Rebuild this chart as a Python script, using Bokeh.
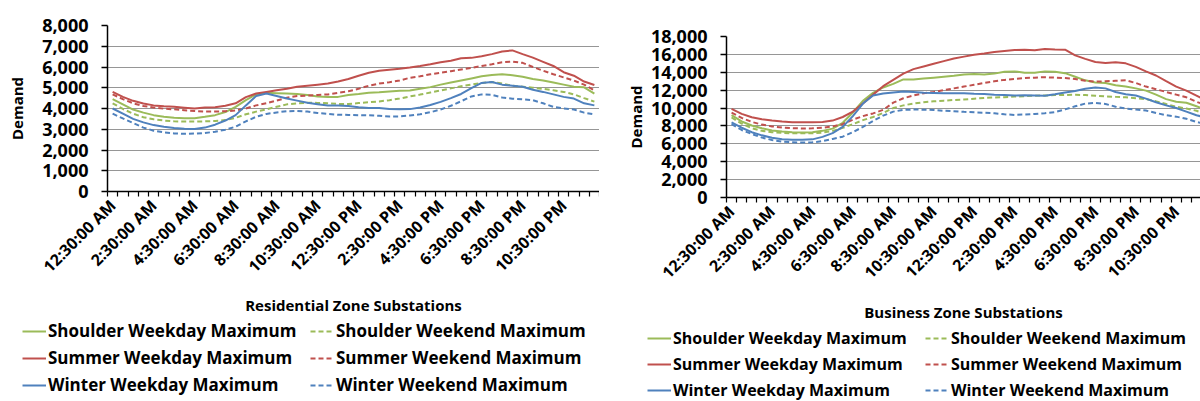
import math
from bokeh.plotting import figure
from bokeh.models import FixedTicker, NumeralTickFormatter, Legend, LegendItem, Range1d
from bokeh.layouts import row, column
from bokeh.embed import file_html
from bokeh.resources import INLINE

# ---------------- data ----------------
tick_labels = ["12:30:00 AM", "2:30:00 AM", "4:30:00 AM", "6:30:00 AM", "8:30:00 AM",
               "10:30:00 AM", "12:30:00 PM", "2:30:00 PM", "4:30:00 PM", "6:30:00 PM",
               "8:30:00 PM", "10:30:00 PM"]

series_names = ["Shoulder Weekday Maximum", "Shoulder Weekend Maximum",
                "Summer Weekday Maximum", "Summer Weekend Maximum",
                "Winter Weekday Maximum", "Winter Weekend Maximum"]

res_shoulder_wd = [4450, 4200, 3950, 3800, 3680, 3600, 3550, 3530, 3530, 3600, 3680, 3830, 4080, 4400, 4680, 4760,
                   4740, 4720, 4700, 4650, 4580, 4560, 4560, 4650, 4700, 4760, 4780, 4820, 4860, 4870, 4950, 5030,
                   5150, 5250, 5350, 5450, 5550, 5620, 5650, 5600, 5530, 5420, 5350, 5250, 5150, 5050, 5020, 4720]
res_shoulder_we = [4250, 3980, 3750, 3580, 3480, 3420, 3380, 3370, 3370, 3380, 3400, 3440, 3550, 3720, 3850, 3960,
                   4080, 4200, 4250, 4280, 4270, 4250, 4220, 4220, 4260, 4300, 4340, 4400, 4480, 4580, 4670, 4770,
                   4870, 4970, 5070, 5150, 5230, 5280, 5200, 5100, 5050, 5000, 4950, 4880, 4800, 4680, 4500, 4330]
res_summer_wd = [4800, 4560, 4370, 4240, 4150, 4110, 4080, 4040, 4000, 4050, 4060, 4130, 4250, 4550, 4720, 4800,
                 4880, 4950, 5050, 5100, 5150, 5200, 5300, 5420, 5580, 5720, 5820, 5870, 5920, 5980, 6050, 6130,
                 6230, 6300, 6420, 6440, 6520, 6620, 6750, 6800, 6620, 6450, 6250, 6050, 5750, 5580, 5300, 5130]
res_summer_we = [4680, 4450, 4250, 4120, 4050, 3990, 3960, 3920, 3880, 3850, 3850, 3870, 3900, 4000, 4150, 4250,
                 4380, 4520, 4600, 4620, 4650, 4680, 4750, 4830, 4950, 5100, 5200, 5270, 5350, 5480, 5550, 5650,
                 5720, 5800, 5880, 5960, 6050, 6130, 6230, 6260, 6200, 6000, 5820, 5650, 5500, 5350, 5150, 4880]
res_winter_wd = [4000, 3750, 3500, 3330, 3200, 3120, 3060, 3020, 3010, 3080, 3220, 3420, 3680, 4150, 4600, 4720,
                 4600, 4480, 4380, 4280, 4200, 4150, 4140, 4120, 4060, 4030, 4020, 3980, 3960, 3970, 4050, 4170,
                 4320, 4500, 4700, 4980, 5230, 5280, 5150, 5100, 5050, 4900, 4800, 4680, 4560, 4480, 4250, 4150]
res_winter_we = [3750, 3520, 3300, 3080, 2930, 2850, 2800, 2780, 2790, 2820, 2880, 2980, 3120, 3380, 3600, 3740,
                 3810, 3870, 3880, 3850, 3780, 3740, 3700, 3690, 3680, 3670, 3650, 3610, 3620, 3660, 3720, 3820,
                 3950, 4130, 4350, 4580, 4680, 4660, 4530, 4470, 4440, 4400, 4250, 4080, 4000, 3950, 3800, 3720]

bus_shoulder_wd = [9200, 8500, 8050, 7750, 7500, 7380, 7300, 7280, 7300, 7450, 7700, 8350, 9500, 10800, 11700, 12300,
                   12700, 13200, 13200, 13300, 13400, 13500, 13600, 13750, 13800, 13750, 13850, 14050, 14100, 13950,
                   13950, 14100, 14050, 13900, 13500, 13100, 12850, 12800, 12550, 12400, 12200, 11950, 11500, 11000,
                   10700, 10600, 10200, 9800]
bus_shoulder_we = [8950, 8250, 7750, 7450, 7300, 7220, 7170, 7170, 7170, 7250, 7450, 7780, 8200, 8650, 9000, 9450,
                   10000, 10300, 10500, 10650, 10750, 10830, 10900, 10950, 11050, 11130, 11180, 11220, 11280, 11330,
                   11380, 11400, 11450, 11470, 11480, 11450, 11380, 11300, 11250, 11200, 11100, 11000, 10750, 10450,
                   10150, 9950, 9700, 9300]
bus_summer_wd = [9900, 9350, 8970, 8750, 8600, 8500, 8420, 8400, 8400, 8450, 8600, 9000, 9600, 10500, 11500, 12450,
                 13160, 13850, 14350, 14650, 14950, 15250, 15550, 15750, 15950, 16100, 16260, 16380, 16480, 16520,
                 16450, 16600, 16550, 16520, 15890, 15500, 15150, 15050, 15120, 15000, 14600, 14100, 13640, 13000,
                 12400, 11950, 11400, 10800]
bus_summer_we = [9500, 8900, 8450, 8150, 7950, 7820, 7750, 7720, 7730, 7800, 7950, 8200, 8700, 9100, 9400, 9800,
                 10600, 11100, 11400, 11650, 11800, 12000, 12200, 12400, 12600, 12800, 13000, 13150, 13250, 13350,
                 13400, 13450, 13400, 13350, 13250, 13050, 12950, 13000, 13050, 13100, 12800, 12400, 12100, 11800,
                 11500, 11200, 10700, 10300]
bus_winter_wd = [8400, 7800, 7300, 6950, 6680, 6520, 6450, 6450, 6500, 6780, 7200, 7900, 9100, 10500, 11400, 11620,
                 11750, 11850, 11800, 11700, 11680, 11650, 11650, 11650, 11600, 11580, 11500, 11450, 11400, 11420,
                 11400, 11380, 11550, 11750, 11900, 12150, 12300, 12200, 11800, 11550, 11400, 11050, 10650, 10300,
                 10000, 9600, 9200, 8900]
bus_winter_we = [8200, 7550, 7100, 6700, 6430, 6250, 6170, 6150, 6170, 6300, 6550, 6800, 7300, 7900, 8550, 9150,
                 9600, 9800, 9830, 9820, 9790, 9700, 9640, 9580, 9530, 9480, 9420, 9300, 9230, 9280, 9340, 9420,
                 9550, 9850, 10200, 10500, 10580, 10460, 10150, 9950, 9830, 9720, 9450, 9200, 9040, 8800, 8450, 8200]

# ---------------- style ----------------
FONT = "Open Sans"
GREEN, RED, BLUE = "#9BBB59", "#C0504D", "#4F81BD"
styles = [(GREEN, "solid"), (GREEN, "5 3"), (RED, "solid"), (RED, "5 3"), (BLUE, "solid"), (BLUE, "5 3")]


def make_panel(title, data, ymax, ystep, frame_w, frame_h, left, top, xend,
               ylabel_standoff, xlabel_standoff):
    n = len(data[0])
    xs = [i + 0.5 for i in range(n)]
    p = figure(frame_width=frame_w, frame_height=frame_h,
               x_range=Range1d(0, xend), y_range=Range1d(0, ymax),
               output_backend="svg", toolbar_location=None,
               min_border_left=left, min_border_right=0, min_border_top=top,
               min_border_bottom=0, background_fill_color="white")
    p.frame_align = False
    p.outline_line_color = None
    p.xgrid.visible = False
    p.ygrid.grid_line_color = "#969696"
    p.ygrid.grid_line_width = 1

    ya = p.yaxis[0]
    ya.ticker = FixedTicker(ticks=list(range(0, ymax + 1, ystep)))
    ya.formatter = NumeralTickFormatter(format="0,0")
    ya.axis_label = "Demand"
    ya.axis_label_text_font = FONT
    ya.axis_label_text_font_style = "bold"
    ya.axis_label_text_font_size = "15px"
    ya.axis_label_text_color = "black"
    ya.axis_label_standoff = ylabel_standoff
    ya.major_label_text_font = FONT
    ya.major_label_text_font_style = "bold"
    ya.major_label_text_font_size = "18px"
    ya.major_label_text_color = "black"
    ya.major_label_standoff = 13
    ya.major_tick_out = 6
    ya.major_tick_in = 0
    ya.minor_tick_out = 0
    ya.minor_tick_in = 0
    ya.axis_line_color = "black"
    ya.axis_line_width = 1.5
    ya.major_tick_line_color = "black"
    ya.major_tick_line_width = 1.5

    xa = p.xaxis[0]
    label_pos = [0.5 + 4 * k for k in range(len(tick_labels))]
    xa.ticker = FixedTicker(ticks=label_pos, minor_ticks=list(range(0, n + 1)))
    xa.major_label_overrides = {pos: lab for pos, lab in zip(label_pos, tick_labels)}
    xa.major_label_orientation = math.pi / 4
    xa.major_label_text_font = FONT
    xa.major_label_text_font_style = "bold"
    xa.major_label_text_font_size = "16px"
    xa.major_label_text_color = "black"
    xa.major_label_standoff = 6
    xa.major_tick_out = 0
    xa.major_tick_in = 0
    xa.minor_tick_out = 5
    xa.minor_tick_in = 0
    xa.minor_tick_line_color = "black"
    xa.minor_tick_line_width = 1.2
    xa.axis_line_color = "black"
    xa.axis_line_width = 1.5
    xa.axis_label = title
    xa.axis_label_text_font = FONT
    xa.axis_label_text_font_style = "bold"
    xa.axis_label_text_font_size = "15px"
    xa.axis_label_text_color = "black"
    xa.axis_label_standoff = xlabel_standoff

    for vals, (color, dash) in zip(data, styles):
        p.line(xs, vals, line_color=color, line_width=2, line_dash=dash)
    return p


def make_legend(data, height, loc, font_size, label_width):
    # legend-only strip; the series lie outside its y range so only the legend shows
    n = len(data[0])
    xs = [i + 0.5 for i in range(n)]
    lf = figure(width=600, height=height, x_range=Range1d(0, 1), y_range=Range1d(-2, -1),
                output_backend="svg", toolbar_location=None,
                x_axis_location=None, y_axis_location=None,
                min_border=0, min_border_left=0, min_border_right=0,
                min_border_top=0, min_border_bottom=0)
    lf.frame_align = False
    lf.outline_line_color = None
    lf.xgrid.visible = False
    lf.ygrid.visible = False
    rs = [lf.line(xs, vals, line_color=c, line_width=2, line_dash=d)
          for vals, (c, d) in zip(data, styles)]
    order = [0, 2, 4, 1, 3, 5]
    items = [LegendItem(label=series_names[k], renderers=[rs[k]]) for k in order]
    leg = Legend(items=items, location=loc, orientation="vertical", ncols=2,
                 border_line_color=None, background_fill_alpha=0,
                 label_text_font=FONT, label_text_font_style="bold",
                 label_text_font_size=font_size, label_text_color="black",
                 glyph_width=24, glyph_height=20, label_height=20, label_width=label_width,
                 label_standoff=2, spacing=4, padding=0, margin=0)
    lf.add_layout(leg, "center")
    return lf


res_data = [res_shoulder_wd, res_shoulder_we, res_summer_wd, res_summer_we, res_winter_wd, res_winter_we]
bus_data = [bus_shoulder_wd, bus_shoulder_we, bus_summer_wd, bus_summer_we, bus_winter_wd, bus_winter_we]

p1 = make_panel("Residential Zone Substations", res_data, 8000, 1000, 492, 166, 107, 25, 48, 12, 7)
p2 = make_panel("Business Zone Substations", bus_data, 18000, 2000, 474, 161, 126, 36, 46.9, 2, 8)
l1 = make_legend(res_data, 84, (22, 5), "17px", 258)
l2 = make_legend(bus_data, 77, (47, 0), "16px", 248)

layout = row(column(p1, l1, spacing=0), column(p2, l2, spacing=0), spacing=0)
open("out.html", "w").write(file_html(layout, INLINE))
